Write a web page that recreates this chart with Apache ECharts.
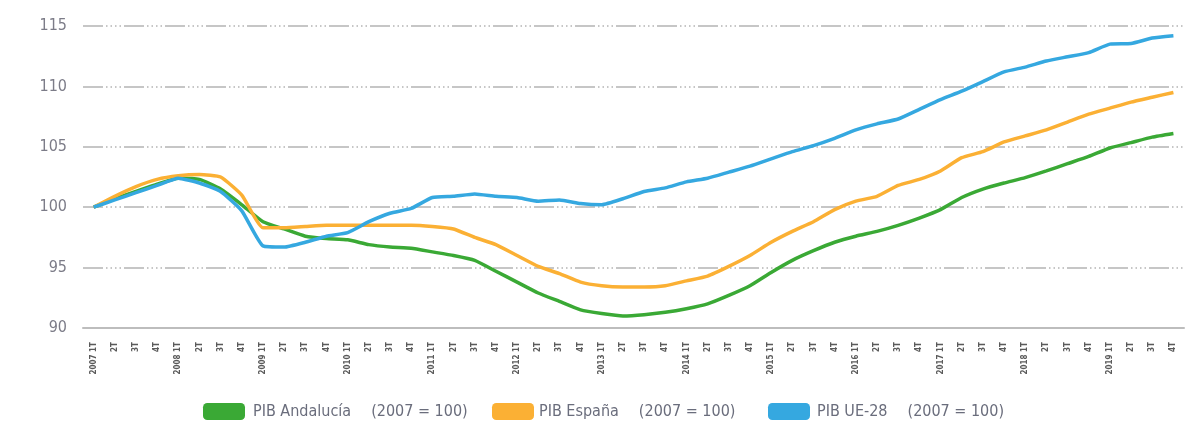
<!DOCTYPE html>
<html>
<head>
<meta charset="utf-8">
<script src="https://cdn.jsdelivr.net/npm/echarts@6/dist/echarts.min.js"></script>
<style>
  html, body { margin: 0; padding: 0; background: #fff; }
  #chart { width: 1191px; height: 424px; }
</style>
</head>
<body>
<div id="chart"></div>
<script>
  // trimestres 2007 1T .. 2019 4T
  const years = ['2007', '2008', '2009', '2010', '2011', '2012', '2013', '2014', '2015', '2016', '2017', '2018', '2019']
  const quarters = []
  years.forEach(y => {
    quarters.push(y + ' 1T', '2T', '3T', '4T')
  })

  const pibAndalucia = [
    100.0, 100.7, 101.3, 101.9, 102.4, 102.3, 101.5, 100.2,
    98.8, 98.2, 97.6, 97.4, 97.3, 96.9, 96.7, 96.6,
    96.3, 96.0, 95.6, 94.7, 93.8, 92.9, 92.2, 91.5,
    91.2, 91.0, 91.1, 91.3, 91.6, 92.0, 92.7, 93.5,
    94.6, 95.6, 96.4, 97.1, 97.6, 98.0, 98.5, 99.1,
    99.8, 100.8, 101.5, 102.0, 102.45, 103.0, 103.6, 104.2,
    104.9, 105.35, 105.8, 106.1
  ]
  const pibEspana = [
    100.0, 100.9, 101.7, 102.3, 102.6, 102.7, 102.5, 101.0,
    98.3, 98.3, 98.4, 98.5, 98.5, 98.5, 98.5, 98.5,
    98.4, 98.2, 97.5, 96.9, 96.0, 95.1, 94.5, 93.8,
    93.5, 93.4, 93.4, 93.5, 93.9, 94.3, 95.1, 96.0,
    97.1, 98.0, 98.8, 99.8, 100.5, 100.9, 101.8, 102.3,
    103.0, 104.1, 104.6, 105.4, 105.9, 106.4, 107.05, 107.7,
    108.2, 108.7, 109.1, 109.5
  ]
  const pibUE28 = [
    100.0, 100.6, 101.2, 101.8, 102.4, 102.0, 101.3, 99.7,
    96.8, 96.7, 97.1, 97.6, 97.9, 98.8, 99.5, 99.9,
    100.8, 100.9, 101.1, 100.9, 100.8, 100.5, 100.6, 100.3,
    100.2, 100.7, 101.3, 101.6, 102.1, 102.4, 102.9, 103.4,
    104.0, 104.6, 105.1, 105.7, 106.4, 106.9, 107.3, 108.1,
    108.9, 109.6, 110.4, 111.2, 111.6, 112.1, 112.45, 112.8,
    113.5, 113.55, 114.0, 114.2
  ]
  const yTicks = [90, 95, 100, 105, 110, 115]

  const font = '"Liberation Sans Narrow", "DejaVu Sans Condensed", sans-serif'
  const legendTxt = '(2007 = 100)'

  const mkLegend = (name, left, pad, gap) => ({
    data: [name],
    left: left,
    top: 398,
    orient: 'horizontal',
    itemWidth: 42,
    itemHeight: 17,
    icon: 'roundRect',
    selectedMode: false,
    formatter: n => '{n|' + n + '}{p|' + legendTxt + '}',
    textStyle: {
      rich: {
        n: { fontFamily: font, fontSize: 16, color: '#6a6d7c', padding: [0, 0, 0, pad] },
        p: { fontFamily: font, fontSize: 16, color: '#6a6d7c', padding: [0, 0, 0, gap] }
      }
    }
  })

  const mkSeries = (name, data, color) => ({
    name: name,
    type: 'line',
    data: data,
    showSymbol: false,
    symbol: 'none',
    smooth: 0.15,
    lineStyle: { width: 3.5, color: color },
    itemStyle: { color: color }
  })

  const chart = echarts.init(document.getElementById('chart'))
  chart.setOption({
    animation: false,
    grid: { left: 83, right: 7, top: 26, bottom: 96, containLabel: false },
    legend: [
      mkLegend('PIB Andalucía', 198, 3, 20),
      mkLegend('PIB España', 487, 0, 20),
      mkLegend('PIB UE-28', 763, 2, 20)
    ],
    xAxis: {
      type: 'category',
      boundaryGap: true,
      data: quarters,
      axisLine: { show: true, lineStyle: { color: '#bdbdbd', width: 2 } },
      axisTick: { show: false },
      axisLabel: {
        interval: 0,
        rotate: 90,
        margin: 14,
        fontFamily: font,
        fontSize: 8,
        fontWeight: 'bold',
        color: '#5a5a5a'
      },
      splitLine: { show: false }
    },
    yAxis: {
      type: 'value',
      min: yTicks[0],
      max: yTicks[yTicks.length - 1],
      interval: 5,
      axisLine: { show: false },
      axisTick: { show: false },
      axisLabel: {
        margin: 16,
        fontFamily: font,
        fontSize: 16,
        color: '#7c7c88'
      },
      splitLine: {
        lineStyle: {
          color: '#c6c6c6',
          width: 2,
          type: [20, 3, 1.5, 3, 1.5, 3, 1.5, 3, 1.5, 3]
        }
      }
    },
    series: [
      mkSeries('PIB Andalucía', pibAndalucia, '#3aa935'),
      mkSeries('PIB España', pibEspana, '#fbb034'),
      mkSeries('PIB UE-28', pibUE28, '#35a8e0')
    ]
  })
</script>
</body>
</html>
